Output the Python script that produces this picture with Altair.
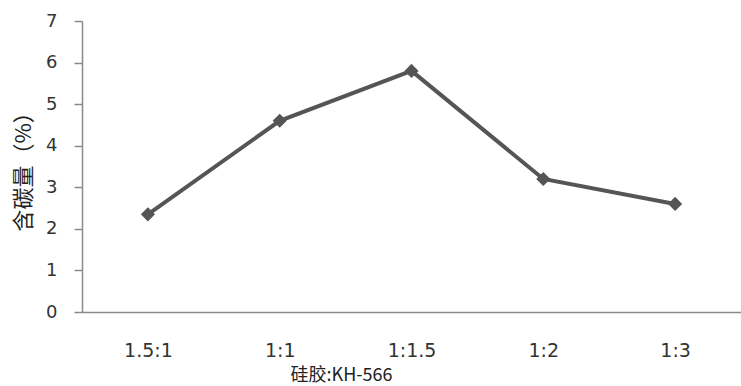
import altair as alt
import pandas as pd

# Silica gel : KH-566 ratio and measured carbon content (%)
ratios = ["1.5:1", "1:1", "1:1.5", "1:2", "1:3"]
carbon = [2.35, 4.6, 5.8, 3.2, 2.6]
y_ticks = [0, 1, 2, 3, 4, 5, 6, 7]

df = pd.DataFrame({"ratio": ratios, "carbon": carbon})

x = alt.X(
    "ratio:N",
    sort=ratios,
    scale=alt.Scale(paddingInner=0, paddingOuter=0),
    axis=alt.Axis(
        title="硅胶:KH-566",
        titleFont="Noto Sans CJK SC",
        titleFontSize=18,
        titleFontWeight="normal",
        titleColor="#222222",
        titleX=259,
        titleY=63,
        titleAlign="center",
        titleBaseline="middle",
        labelAngle=0,
        labelFont="DejaVu Sans",
        labelFontSize=19,
        labelColor="#333333",
        labelPadding=29,
        ticks=False,
        domainColor="#8a8a8a",
        domainWidth=1.5,
    ),
)

y = alt.Y(
    "carbon:Q",
    scale=alt.Scale(domain=[0, 7], nice=False, zero=True),
    axis=alt.Axis(
        title="含碳量（%）",
        titleFont="Noto Sans CJK SC",
        titleFontSize=22,
        titleFontWeight="normal",
        titleColor="#222222",
        titleX=-47,
        titleY=145,
        titleAlign="center",
        values=y_ticks,
        format="d",
        labelFont="DejaVu Sans",
        labelFontSize=18,
        labelColor="#333333",
        labelPadding=17,
        tickSize=8,
        tickColor="#8a8a8a",
        tickWidth=1.5,
        domainColor="#8a8a8a",
        domainWidth=1.5,
        grid=False,
    ),
)

line = alt.Chart(df).mark_line(
    color="#555555",
    strokeWidth=4,
    point=alt.OverlayMarkDef(shape="diamond", size=200, filled=True, color="#555555"),
).encode(x=x, y=y)

chart = line.properties(
    width=659,
    height=291,
    autosize=alt.AutoSizeParams(type="none"),
    padding={"left": 82, "top": 21, "right": 0, "bottom": 74},
    background="white",
).configure_view(stroke=None)

chart.save("out.html", embed_options={"renderer": "svg", "actions": False})
